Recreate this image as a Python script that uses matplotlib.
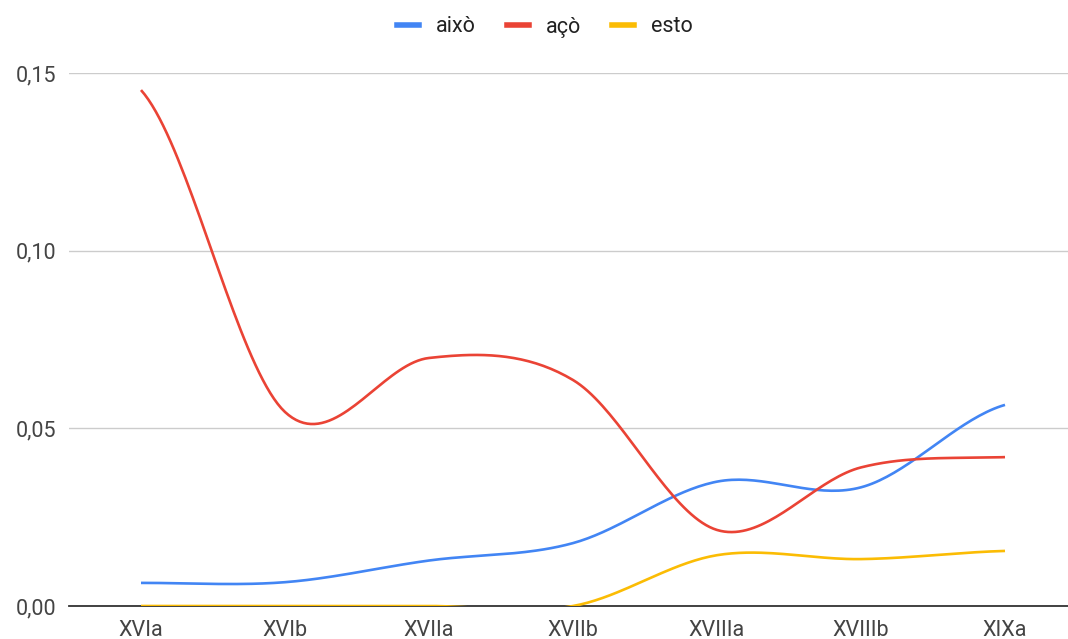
import numpy as np
import matplotlib.pyplot as plt
from matplotlib.lines import Line2D

plt.rcParams['font.family'] = ['Roboto', 'DejaVu Sans']

periodes = ['XVIa', 'XVIb', 'XVIIa', 'XVIIb', 'XVIIIa', 'XVIIIb', 'XIXa']
aixo = [0.0065, 0.0067, 0.0128, 0.0177, 0.0350, 0.0334, 0.0566]
aco = [0.1452, 0.0546, 0.0698, 0.0636, 0.0214, 0.0390, 0.0419]
esto = [0.0, 0.0, 0.0, 0.0, 0.0143, 0.0132, 0.0155]

noms = ['això', 'açò', 'esto']
colors = ['#4285F4', '#EA4335', '#FBBC04']


def suavitza(y, n=40):
    # spline de Catmull-Rom per imitar la corba de Google
    y = np.asarray(y, dtype=float)
    x = np.arange(len(y), dtype=float)
    xs, ys = [], []
    for i in range(len(y) - 1):
        p0 = y[i - 1] if i > 0 else y[i]
        p1, p2 = y[i], y[i + 1]
        p3 = y[i + 2] if i + 2 < len(y) else y[i + 1]
        t = np.linspace(0, 1, n)
        m1 = (p2 - p0) / 2
        m2 = (p3 - p1) / 2
        h00 = 2 * t**3 - 3 * t**2 + 1
        h10 = t**3 - 2 * t**2 + t
        h01 = -2 * t**3 + 3 * t**2
        h11 = t**3 - t**2
        xs.append(x[i] + t)
        ys.append(h00 * p1 + h10 * m1 + h01 * p2 + h11 * m2)
    return np.concatenate(xs), np.concatenate(ys)


fig = plt.figure(figsize=(10.68, 6.39), dpi=100)
ax = fig.add_axes([69 / 1068, 33 / 639, 1008 / 1068, 533 / 639])

for serie, nom, c in zip([aixo, aco, esto], noms, colors):
    xs, ys = suavitza(serie)
    ax.plot(xs, ys, color=c, lw=1.9, solid_capstyle='butt', zorder=3)

ax.set_xlim(-0.5, len(periodes) - 0.5)
ax.set_ylim(0, 0.15)
ax.set_yticks([0, 0.05, 0.10, 0.15])
ax.set_yticklabels(['0,00', '0,05', '0,10', '0,15'])
ax.set_xticks(range(len(periodes)))
ax.set_xticklabels(periodes)
ax.tick_params(length=0, labelsize=15.5, labelcolor='#444444', pad=10)
ax.tick_params(axis='y', pad=9)
ax.grid(axis='y', color='#cccccc', lw=1)
ax.set_axisbelow(True)
for s in ['top', 'right', 'left']:
    ax.spines[s].set_visible(False)
ax.spines['bottom'].set_color('#333333')
ax.spines['bottom'].set_linewidth(1.3)

handles = [Line2D([0], [0], color=c, lw=4) for c in colors]
fig.legend(handles, noms, loc='center', bbox_to_anchor=(545 / 1068, 1 - 27 / 639),
           ncol=3, frameon=False, fontsize=15.5, handlelength=1.0,
           columnspacing=1.45, handletextpad=0.8, labelcolor='#222222')

fig.savefig('out.png', dpi=100)
